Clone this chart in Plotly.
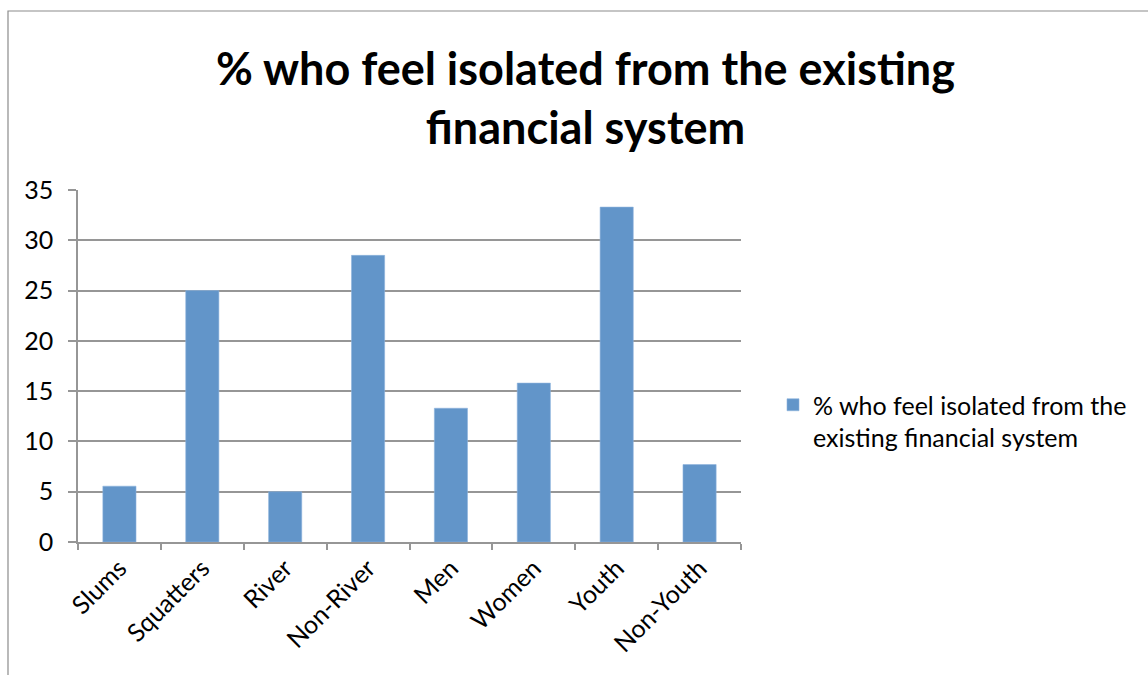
import plotly.graph_objects as go

categories = ["Slums", "Squatters", "River", "Non-River", "Men", "Women", "Youth", "Non-Youth"]
values = [5.55, 25.0, 5.0, 28.5, 13.3, 15.8, 33.3, 7.7]
series_name = "% who feel isolated from the<br>existing financial system"
title_text = "% who feel isolated from the existing<br>financial system"
y_ticks = [0, 5, 10, 15, 20, 25, 30, 35]

W, H = 1148, 675
L, R, T, B = 78, 407, 190, 133
pw, ph = W - L - R, H - T - B

def px_x(x):
    return (x - L) / pw

def px_y(y):
    return (H - B - y) / ph

FONT = "Lato"
GRID = "#969696"

fig = go.Figure()
fig.add_trace(go.Bar(
    x=categories, y=values, name=series_name,
    marker=dict(color="#6295C9", line=dict(color="#8DB3DD", width=0.6)),
    showlegend=True,
))

fig.update_layout(
    width=W, height=H,
    margin=dict(l=L, r=R, t=T, b=B),
    paper_bgcolor="white", plot_bgcolor="white",
    bargap=0.6,
    font=dict(family=FONT, color="black"),
    showlegend=True,
    legend=dict(
        x=px_x(773), y=px_y(382), xanchor="left", yanchor="top",
        font=dict(family=FONT, size=25, color="black"),
        itemwidth=30, tracegroupgap=0, valign="top",
        bgcolor="rgba(0,0,0,0)",
    ),
    xaxis=dict(
        type="category", tickangle=-45,
        tickfont=dict(family=FONT, size=25, color="black"),
        showline=True, linecolor=GRID, linewidth=1.5,
        ticks="outside", tickson="boundaries", ticklen=6, tickcolor=GRID, tickwidth=1.5,
        showgrid=False,
    ),
    yaxis=dict(
        range=[0, 35], tickvals=y_ticks,
        tickfont=dict(family=FONT, size=25, color="black"),
        ticklabelstandoff=10,
        showline=True, linecolor=GRID, linewidth=1.5,
        ticks="outside", ticklen=8, tickcolor=GRID, tickwidth=1.5,
        showgrid=True, gridcolor=GRID, gridwidth=1.5,
        zeroline=False,
    ),
    shapes=[dict(
        type="rect", xref="paper", yref="paper",
        x0=px_x(8), x1=px_x(1160), y0=px_y(690), y1=px_y(11),
        line=dict(color="#8c8c8c", width=1.2), fillcolor="rgba(0,0,0,0)", layer="below",
    )],
    annotations=[dict(
        text="<b>" + title_text + "</b>", xref="paper", yref="paper",
        x=px_x(585), y=px_y(39), xanchor="center", yanchor="top",
        showarrow=False, font=dict(family=FONT, size=45, color="black"),
        align="center",
    )],
)

fig.write_html("out.html")
